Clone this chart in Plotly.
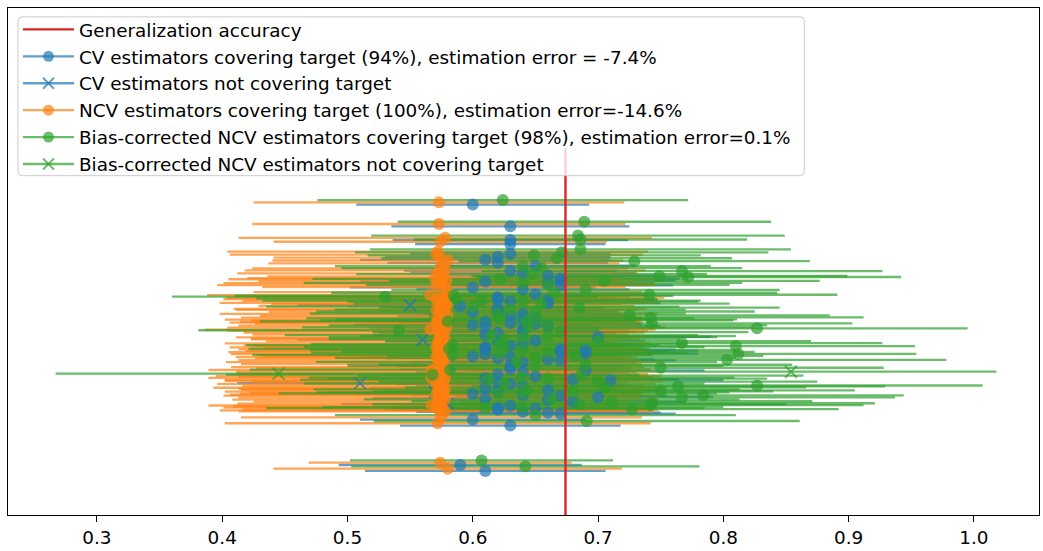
import plotly.graph_objects as go

# Generalization accuracy the interval estimators try to cover
target_accuracy = 0.674

# Vertical position of each repetition (one row per repetition, 100 rows)
row_pos = [
    317, 295, 281, 277, 267, 264, 261, 258, 255,
    250, 248, 245, 242, 240, 239, 237, 235, 233, 231,
    226, 223, 221, 220, 219, 217, 215, 214, 212, 209,
    208, 206, 204, 202, 200, 198, 197, 196, 195, 194,
    192, 190, 188, 187, 185, 183,
    180, 179, 178, 176, 174, 172, 171, 170, 169, 168,
    166, 165, 163, 162, 161, 160, 159, 157, 155, 153,
    150, 149, 147, 145, 143, 141, 140, 139, 137, 136,
    135, 133, 131, 129, 128, 127, 125, 124, 123, 122,
    121, 119, 117, 115, 113, 111, 110, 109, 107, 106,
    105, 99, 93,
    53, 47,
]

# Plain cross-validation estimates and half-widths of their intervals
cv_est = [
    0.60, 0.63, 0.63, 0.63, 0.63, 0.62, 0.61, 0.62, 0.65,
    0.63, 0.64, 0.66, 0.67, 0.67, 0.61, 0.66, 0.67, 0.60, 0.64,
    0.65, 0.62, 0.62, 0.66, 0.63, 0.66, 0.55, 0.59, 0.62, 0.62,
    0.60, 0.64, 0.63, 0.65, 0.64, 0.61, 0.63, 0.65, 0.60, 0.66,
    0.61, 0.64, 0.64, 0.62, 0.61, 0.70,
    0.56, 0.65, 0.62, 0.64, 0.63, 0.61, 0.61, 0.67, 0.69, 0.67,
    0.69, 0.61, 0.60, 0.63, 0.62, 0.66, 0.67, 0.64, 0.58, 0.63,
    0.63, 0.69, 0.64, 0.62, 0.65, 0.61, 0.68, 0.71, 0.62, 0.51,
    0.63, 0.64, 0.61, 0.66, 0.62, 0.57, 0.60, 0.64, 0.67, 0.70,
    0.61, 0.66, 0.68, 0.58, 0.63, 0.62, 0.65, 0.62, 0.64, 0.66,
    0.67, 0.60, 0.63,
    0.59, 0.61,
]
cv_half = [
    0.093, 0.095, 0.094, 0.076, 0.080, 0.090, 0.100, 0.088, 0.080,
    0.085, 0.090, 0.088, 0.095, 0.092, 0.100, 0.085, 0.090, 0.098, 0.085,
    0.090, 0.095, 0.090, 0.088, 0.085, 0.090, 0.090, 0.090, 0.085, 0.095,
    0.090, 0.080, 0.090, 0.085, 0.090, 0.095, 0.088, 0.085, 0.095, 0.090,
    0.092, 0.085, 0.090, 0.095, 0.090, 0.090,
    0.100, 0.088, 0.090, 0.085, 0.090, 0.095, 0.090, 0.092, 0.090, 0.085,
    0.090, 0.095, 0.090, 0.088, 0.090, 0.085, 0.092, 0.090, 0.080, 0.090,
    0.088, 0.095, 0.085, 0.090, 0.088, 0.090, 0.085, 0.090, 0.095, 0.098,
    0.090, 0.085, 0.092, 0.090, 0.088, 0.085, 0.095, 0.090, 0.085, 0.092,
    0.090, 0.088, 0.090, 0.085, 0.090, 0.095, 0.088, 0.090, 0.085, 0.090,
    0.092, 0.090, 0.088,
    0.097, 0.096,
]

# Nested cross-validation estimates and half-widths of their intervals
ncv_est = [
    0.573, 0.573, 0.578, 0.574, 0.572, 0.571, 0.574, 0.580, 0.577,
    0.574, 0.578, 0.572, 0.576, 0.570, 0.575, 0.579, 0.573, 0.571, 0.577,
    0.580, 0.566, 0.575, 0.578, 0.571, 0.576, 0.573, 0.579, 0.579, 0.574,
    0.571, 0.577, 0.573, 0.580, 0.575, 0.572, 0.578, 0.574, 0.571, 0.576,
    0.573, 0.579, 0.566, 0.572, 0.577, 0.574,
    0.576, 0.573, 0.578, 0.575, 0.572, 0.577, 0.574, 0.571, 0.576, 0.573,
    0.579, 0.575, 0.572, 0.577, 0.574, 0.571, 0.576, 0.573, 0.578, 0.575,
    0.572, 0.577, 0.567, 0.571, 0.576, 0.573, 0.578, 0.567, 0.572, 0.577,
    0.574, 0.571, 0.576, 0.573, 0.578, 0.575, 0.572, 0.577, 0.574, 0.571,
    0.576, 0.573, 0.578, 0.575, 0.572, 0.567, 0.574, 0.571, 0.576, 0.573,
    0.578, 0.575, 0.572,
    0.574, 0.580,
]
ncv_half = [
    0.148, 0.149, 0.165, 0.133, 0.168, 0.165, 0.133, 0.140, 0.140,
    0.150, 0.160, 0.160, 0.140, 0.150, 0.170, 0.150, 0.172, 0.175, 0.145,
    0.155, 0.178, 0.150, 0.175, 0.170, 0.160, 0.175, 0.140, 0.150, 0.165,
    0.160, 0.140, 0.175, 0.150, 0.160, 0.170, 0.155, 0.160, 0.165, 0.150,
    0.160, 0.175, 0.180, 0.168, 0.160, 0.150,
    0.165, 0.150, 0.155, 0.140, 0.170, 0.160, 0.150, 0.165, 0.143, 0.160,
    0.160, 0.170, 0.165, 0.150, 0.142, 0.160, 0.150, 0.160, 0.175, 0.160,
    0.165, 0.150, 0.178, 0.160, 0.164, 0.178, 0.165, 0.178, 0.170, 0.175,
    0.150, 0.175, 0.160, 0.180, 0.165, 0.160, 0.170, 0.155, 0.160, 0.165,
    0.175, 0.160, 0.170, 0.150, 0.160, 0.178, 0.165, 0.170, 0.160, 0.175,
    0.165, 0.160, 0.170,
    0.105, 0.139,
]

# Bias-corrected NCV estimates (the correction shifts the NCV interval,
# keeping its width)
bc_est = [
    0.624, 0.689, 0.684, 0.686, 0.686, 0.671, 0.649, 0.667, 0.729,
    0.640, 0.655, 0.767, 0.647, 0.749, 0.772, 0.622, 0.705, 0.640, 0.660,
    0.690, 0.665, 0.741, 0.585, 0.530, 0.587, 0.607, 0.640, 0.655, 0.600,
    0.685, 0.630, 0.650, 0.620, 0.725, 0.742, 0.622, 0.651, 0.643, 0.580,
    0.743, 0.660, 0.644, 0.827, 0.541, 0.670,
    0.615, 0.660, 0.640, 0.625, 0.700, 0.767, 0.621, 0.584, 0.810, 0.625,
    0.581, 0.640, 0.660, 0.621, 0.812, 0.584, 0.682, 0.650, 0.803, 0.635,
    0.690, 0.650, 0.750, 0.582, 0.854, 0.445, 0.568, 0.686, 0.639, 0.660,
    0.612, 0.700, 0.625, 0.827, 0.764, 0.706, 0.643, 0.750, 0.680, 0.640,
    0.620, 0.784, 0.767, 0.663, 0.711, 0.743, 0.685, 0.742, 0.640, 0.610,
    0.727, 0.650, 0.691,
    0.607, 0.642,
]
bc_half = ncv_half

legend_labels = [
    "Generalization accuracy",
    "CV estimators covering target (94%), estimation error = -7.4%",
    "CV estimators not covering target",
    "NCV estimators covering target (100%), estimation error=-14.6%",
    "Bias-corrected NCV estimators covering target (98%), estimation error=0.1%",
    "Bias-corrected NCV estimators not covering target",
]

BLUE = "rgba(31,119,180,0.7)"
ORANGE = "rgba(255,127,14,0.7)"
GREEN = "rgba(44,160,44,0.7)"
RED = "#d62728"
ROW_SHIFT = 2.3          # small vertical separation of the three estimators
MARKER_SIZE = 12
BAR_WIDTH = 2.3
FONT_SIZE = 18.4

W, H = 1043, 551
MARGIN = dict(l=8, r=3, t=8, b=29)
PLOT_W = W - MARGIN["l"] - MARGIN["r"]
PLOT_H = H - MARGIN["t"] - MARGIN["b"]


def split(est, half):
    """Group estimates by whether their interval covers the target."""
    hit, miss = ([], [], []), ([], [], [])
    for e, h, y in zip(est, half, row_pos):
        grp = hit if e - h <= target_accuracy <= e + h else miss
        grp[0].append(e)
        grp[1].append(h)
        grp[2].append(y)
    return hit, miss


cv_hit, cv_miss = split(cv_est, cv_half)
ncv_hit, ncv_miss = split(ncv_est, ncv_half)
bc_hit, bc_miss = split(bc_est, bc_half)

# (group, vertical shift, colour, marker symbol) in drawing order
series = [
    (cv_hit, -ROW_SHIFT, BLUE, "circle"),
    (cv_miss, -ROW_SHIFT, BLUE, "x-thin"),
    (ncv_hit, 0.0, ORANGE, "circle"),
    (ncv_miss, 0.0, ORANGE, "x-thin"),
    (bc_hit, ROW_SHIFT, GREEN, "circle"),
    (bc_miss, ROW_SHIFT, GREEN, "x-thin"),
]

fig = go.Figure()

# error bars first: every marker sits above every bar
for (est, half, ys), shift, color, _ in series:
    if not est:
        continue
    fig.add_trace(go.Scatter(
        x=est, y=[y + shift for y in ys], mode="markers",
        marker=dict(size=1, color="rgba(0,0,0,0)"),
        error_x=dict(type="data", array=half, symmetric=True,
                     color=color, thickness=BAR_WIDTH, width=0),
        showlegend=False, hoverinfo="skip",
    ))

for (est, half, ys), shift, color, symbol in series:
    if not est:
        continue
    marker = dict(size=MARKER_SIZE, color=color, symbol=symbol,
                  line=dict(width=0))
    if symbol == "x-thin":
        marker["line"] = dict(width=2, color=color)
    fig.add_trace(go.Scatter(
        x=est, y=[y + shift for y in ys], mode="markers", marker=marker,
        showlegend=False, hoverinfo="skip",
    ))

# vertical reference line at the generalization accuracy
line_top = 372
fig.add_trace(go.Scatter(
    x=[target_accuracy, target_accuracy], y=[0, line_top], mode="lines",
    line=dict(color=RED, width=2.4), showlegend=False, hoverinfo="skip",
))

# legend entries
legend_styles = [
    dict(mode="lines", line=dict(color=RED, width=2.4)),
    dict(mode="lines+markers", line=dict(color=BLUE, width=BAR_WIDTH),
         marker=dict(size=MARKER_SIZE - 1, color=BLUE)),
    dict(mode="lines+markers", line=dict(color=BLUE, width=BAR_WIDTH),
         marker=dict(size=MARKER_SIZE - 1, symbol="x-thin", color=BLUE,
                     line=dict(width=2, color=BLUE))),
    dict(mode="lines+markers", line=dict(color=ORANGE, width=BAR_WIDTH),
         marker=dict(size=MARKER_SIZE - 1, color=ORANGE)),
    dict(mode="lines+markers", line=dict(color=GREEN, width=BAR_WIDTH),
         marker=dict(size=MARKER_SIZE - 1, color=GREEN)),
    dict(mode="lines+markers", line=dict(color=GREEN, width=BAR_WIDTH),
         marker=dict(size=MARKER_SIZE - 1, symbol="x-thin", color=GREEN,
                     line=dict(width=2, color=GREEN))),
]
for rank, (label, style) in enumerate(zip(legend_labels, legend_styles)):
    fig.add_trace(go.Scatter(x=[None], y=[None], name=label,
                             showlegend=True, legendrank=rank + 1, **style))

# rounded, semi-transparent legend frame (pixel box -> paper coordinates)
box_l, box_t, box_r, box_b, rad = 18, 17, 805, 178, 4


def px_x(p):
    return (p - MARGIN["l"]) / PLOT_W


def px_y(p):
    return 1 - (p - MARGIN["t"]) / PLOT_H


frame = (
    f"M {px_x(box_l + rad)},{px_y(box_t)} "
    f"L {px_x(box_r - rad)},{px_y(box_t)} "
    f"Q {px_x(box_r)},{px_y(box_t)} {px_x(box_r)},{px_y(box_t + rad)} "
    f"L {px_x(box_r)},{px_y(box_b - rad)} "
    f"Q {px_x(box_r)},{px_y(box_b)} {px_x(box_r - rad)},{px_y(box_b)} "
    f"L {px_x(box_l + rad)},{px_y(box_b)} "
    f"Q {px_x(box_l)},{px_y(box_b)} {px_x(box_l)},{px_y(box_b - rad)} "
    f"L {px_x(box_l)},{px_y(box_t + rad)} "
    f"Q {px_x(box_l)},{px_y(box_t)} {px_x(box_l + rad)},{px_y(box_t)} Z"
)
fig.add_shape(type="path", path=frame, xref="paper", yref="paper",
              fillcolor="rgba(255,255,255,0.8)",
              line=dict(color="#cccccc", width=1), layer="above")

fig.update_layout(
    width=W, height=H,
    margin=MARGIN,
    paper_bgcolor="white", plot_bgcolor="white",
    font=dict(family="DejaVu Sans", size=FONT_SIZE, color="black"),
    legend=dict(x=px_x(18), y=px_y(11), xanchor="left", yanchor="top",
                bgcolor="rgba(0,0,0,0)", borderwidth=0,
                itemwidth=51, font=dict(size=FONT_SIZE),
                traceorder="normal"),
    xaxis=dict(range=[0.229, 1.052], tick0=0.3, dtick=0.1, tickformat=".1f",
               showgrid=False, zeroline=False, showline=True, mirror=True,
               linecolor="black", linewidth=1.3, ticks="outside",
               ticklen=6, tickwidth=1.3, tickcolor="black",
               tickfont=dict(size=FONT_SIZE)),
    yaxis=dict(range=[0, 514], showgrid=False, zeroline=False,
               showline=True, mirror=True, linecolor="black", linewidth=1.3,
               showticklabels=False, ticks=""),
)

fig.write_html("out.html")
